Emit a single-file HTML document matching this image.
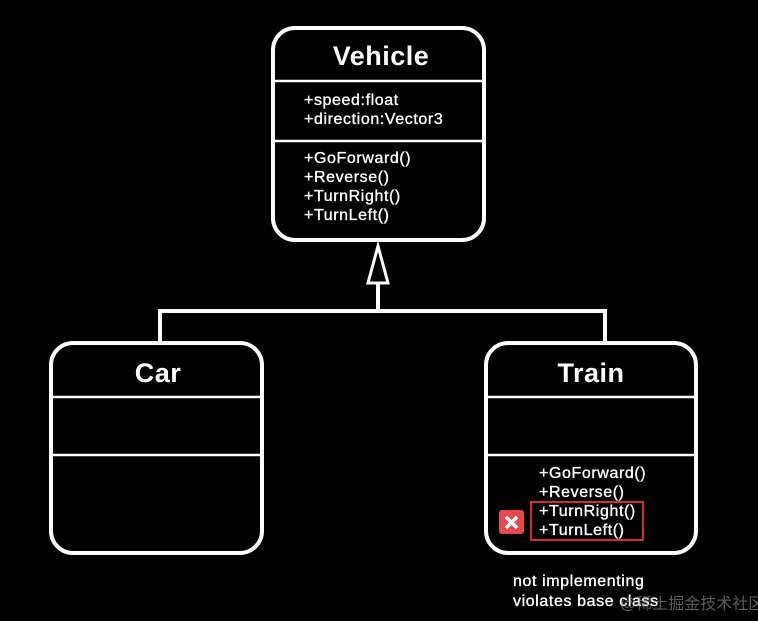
<!DOCTYPE html>
<html><head><meta charset="utf-8"><style>
html,body{margin:0;padding:0;background:#000;}
svg{display:block}
text{font-family:"Liberation Sans","DejaVu Sans",sans-serif;fill:#fff}
.t{font-weight:bold;font-size:27px;text-anchor:middle;letter-spacing:0.5px}
.m{font-size:16px;letter-spacing:0.6px;stroke:#fff;stroke-width:0.35px}
</style></head><body>
<svg width="758" height="621" viewBox="0 0 758 621">
<rect x="0" y="0" width="758" height="621" fill="#000"/>
<g fill="none" stroke="#fff">
<rect x="273" y="28" width="211" height="212" rx="22" stroke-width="4"/>
<line x1="273" y1="81" x2="484" y2="81" stroke-width="2.5"/>
<line x1="273" y1="141" x2="484" y2="141" stroke-width="2.5"/>
<rect x="51" y="343" width="211" height="210" rx="22" stroke-width="4"/>
<line x1="51" y1="397" x2="262" y2="397" stroke-width="2.5"/>
<line x1="51" y1="455" x2="262" y2="455" stroke-width="2.5"/>
<rect x="486" y="343" width="210" height="210" rx="22" stroke-width="4"/>
<line x1="486" y1="397" x2="696" y2="397" stroke-width="2.5"/>
<line x1="486" y1="455" x2="696" y2="455" stroke-width="2.5"/>
<polyline points="160,343 160,311 605,311 605,343" stroke-width="4"/>
<line x1="378" y1="283" x2="378" y2="311" stroke-width="4"/>
<polygon points="378,246 368,283 388,283" stroke-width="3"/>
<rect x="531" y="502" width="112" height="38" stroke="#e02a2a" stroke-width="2"/>
</g>
<text class="t" x="381" y="65">Vehicle</text>
<text class="m" x="304" y="105">+speed:float</text>
<text class="m" x="304" y="124">+direction:Vector3</text>
<text class="m" x="304" y="163">+GoForward()</text>
<text class="m" x="304" y="182">+Reverse()</text>
<text class="m" x="304" y="201">+TurnRight()</text>
<text class="m" x="304" y="220">+TurnLeft()</text>
<text class="t" x="158" y="382">Car</text>
<text class="t" x="591" y="382">Train</text>
<text class="m" x="539" y="478">+GoForward()</text>
<text class="m" x="539" y="497">+Reverse()</text>
<text class="m" x="539" y="516">+TurnRight()</text>
<text class="m" x="539" y="535">+TurnLeft()</text>
<rect x="499" y="510" width="25" height="24" rx="3" fill="#e5484d"/>
<path d="M506 517 L517 528 M517 517 L506 528" stroke="#fff" stroke-width="3.5"/>
<text class="m" x="513" y="586">not implementing</text>
<text class="m" x="513" y="606">violates base class</text>
<text x="620" y="609" style="font-family:'Liberation Sans','Noto Sans CJK SC',sans-serif;font-size:16px;fill:#999;opacity:0.6">@稀土掘金技术社区</text>
</svg>
</body></html>
